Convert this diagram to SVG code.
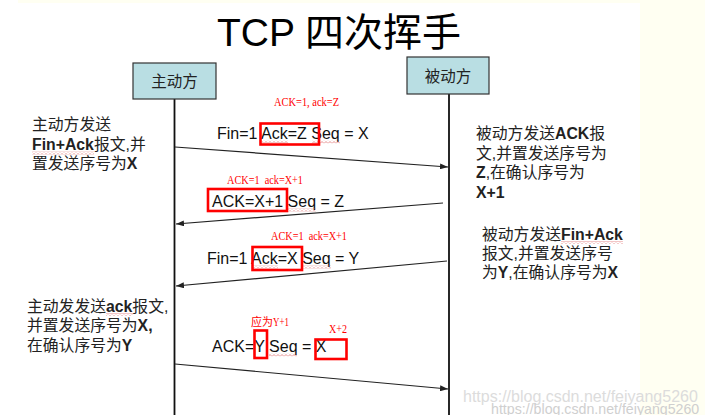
<svg xmlns="http://www.w3.org/2000/svg" width="705" height="415" viewBox="0 0 705 415">
<style>
.body{font-family:"Liberation Sans","Noto Sans CJK SC",sans-serif;font-size:15.8px;fill:#222}
.msg{font-family:"Liberation Sans","Noto Sans CJK SC",sans-serif;font-size:16px;fill:#111}
.b{font-weight:bold}
.red{font-family:"Liberation Serif","Noto Sans CJK SC",serif;font-size:12px;fill:#f00}
.redcjk{font-family:"Noto Sans CJK SC",sans-serif;font-size:11px;fill:#f00}
.hl{fill:none;stroke:#f00;stroke-width:2.6}
.node rect{fill:#b9dee3;stroke:#333;stroke-width:1.2}
.node text{font-family:"Noto Sans CJK SC",sans-serif;font-size:15.5px;fill:#222;text-anchor:middle}
.life{stroke:#111;stroke-width:1.8}
.arrow{stroke:#222;stroke-width:1.2;fill:none;marker-end:url(#ah)}
.wm{font-family:"Liberation Sans",sans-serif}
</style>
<defs>
<marker id="ah" markerUnits="userSpaceOnUse" markerWidth="8" markerHeight="6" refX="8" refY="3" orient="auto">
<path d="M0,0 L8,3 L0,6 z" fill="#222"/>
</marker>
<pattern id="wavy" patternUnits="userSpaceOnUse" width="4" height="3">
<path d="M0,2.5 L2,0.5 L4,2.5" fill="none" stroke="#e07070" stroke-width="0.8"/>
</pattern>
</defs>
<rect x="0" y="0" width="705" height="415" fill="#fff"/>
<rect x="640" y="0" width="65" height="415" fill="#fffff2"/>
<rect x="18" y="0" width="622" height="3" fill="#fffff2"/>

<text x="339" y="46" text-anchor="middle" font-family="Liberation Sans,Noto Sans CJK SC,sans-serif" font-size="39" fill="#000">TCP 四次挥手</text>

<g id="lifelines">
<line class="life" x1="174.5" y1="99" x2="174.5" y2="415"/>
<line class="life" x1="449" y1="94" x2="449" y2="415"/>
</g>

<g id="node-active" class="node">
<rect x="133" y="63" width="83" height="36"/>
<text x="174.5" y="87">主动方</text>
</g>
<g id="node-passive" class="node">
<rect x="407" y="57" width="82" height="37"/>
<text x="448" y="81.5">被动方</text>
</g>

<g id="connectors">
<line class="arrow" x1="175" y1="147" x2="448" y2="167"/>
<line class="arrow" x1="443" y1="203" x2="176" y2="224"/>
<line class="arrow" x1="447" y1="261" x2="176" y2="286"/>
<line class="arrow" x1="175" y1="364" x2="448" y2="389"/>
</g>

<g id="notes-left">
<text class="body" x="32" y="130">主动方发送</text>
<text class="body" x="32" y="150"><tspan class="b">Fin+Ack</tspan>报文,并</text>
<text class="body" x="32" y="169">置发送序号为<tspan class="b">X</tspan></text>
<rect x="32" y="151.5" width="62" height="3" fill="url(#wavy)"/>
<text class="body" x="27" y="311.5">主动发发送<tspan class="b">ack</tspan>报文,</text>
<text class="body" x="27" y="331">并置发送序号为<tspan class="b">X,</tspan></text>
<text class="body" x="27" y="350.5">在确认序号为<tspan class="b">Y</tspan></text>
<rect x="106" y="313" width="27" height="3" fill="url(#wavy)"/>
</g>

<g id="notes-right">
<text class="body" x="476" y="139">被动方发送<tspan class="b">ACK</tspan>报</text>
<text class="body" x="476" y="158.5">文,并置发送序号为</text>
<text class="body" x="476" y="178"><tspan class="b">Z</tspan>,在确认序号为</text>
<text class="body" x="476" y="197.5" font-weight="bold">X+1</text>
<text class="body" x="482" y="239.5">被动方发送<tspan class="b">Fin+Ack</tspan></text>
<text class="body" x="482" y="258.5">报文,并置发送序号</text>
<text class="body" x="482" y="277.5">为<tspan class="b">Y</tspan>,在确认序号为<tspan class="b">X</tspan></text>
<rect x="561" y="241" width="62" height="3" fill="url(#wavy)"/>
</g>

<g id="msg1">
<text class="red" x="274" y="106" textLength="65" lengthAdjust="spacingAndGlyphs">ACK=1, ack=Z</text>
<text class="msg" x="217" y="139">Fin=1 Ack=Z Seq = X</text>
<rect x="262" y="140.5" width="26" height="3" fill="url(#wavy)"/>
<rect x="312" y="140.5" width="28" height="3" fill="url(#wavy)"/>
<rect class="hl" x="260.5" y="123.5" width="58.5" height="21"/>
</g>

<g id="msg2">
<text class="red" x="227" y="184" textLength="76" lengthAdjust="spacingAndGlyphs" xml:space="preserve">ACK=1  ack=X+1</text>
<text class="msg" x="212" y="207">ACK=X+1 Seq = Z</text>
<rect x="288" y="208.5" width="28" height="3" fill="url(#wavy)"/>
<rect class="hl" x="208" y="189" width="79" height="22"/>
</g>

<g id="msg3">
<text class="red" x="271" y="239.5" textLength="76" lengthAdjust="spacingAndGlyphs" xml:space="preserve">ACK=1  ack=X+1</text>
<text class="msg" x="207" y="264">Fin=1 Ack=X Seq = Y</text>
<rect x="252" y="265.5" width="26" height="3" fill="url(#wavy)"/>
<rect x="303" y="265.5" width="28" height="3" fill="url(#wavy)"/>
<rect class="hl" x="252.5" y="247" width="49.5" height="23"/>
</g>

<g id="msg4">
<text x="251" y="326"><tspan class="redcjk">应为</tspan><tspan class="red" textLength="16" lengthAdjust="spacingAndGlyphs">Y+1</tspan></text>
<text class="red" x="329" y="332.5" textLength="18" lengthAdjust="spacingAndGlyphs">X+2</text>
<text class="msg" x="212" y="352">ACK=Y Seq = X</text>
<rect x="269" y="353.5" width="28" height="3" fill="url(#wavy)"/>
<rect class="hl" x="254.5" y="330.5" width="12.5" height="27.5"/>
<rect class="hl" x="315.5" y="339.5" width="31" height="19.5"/>
</g>

<g id="watermark" class="wm">
<text x="463" y="402" font-size="16" fill="#dcdcdc">https://blog.csdn.net/feiyang5260</text>
<text x="491" y="413.5" font-size="14.2" fill="#cfcfcf">https://blog.csdn.net/feiyang5260</text>
</g>
</svg>
